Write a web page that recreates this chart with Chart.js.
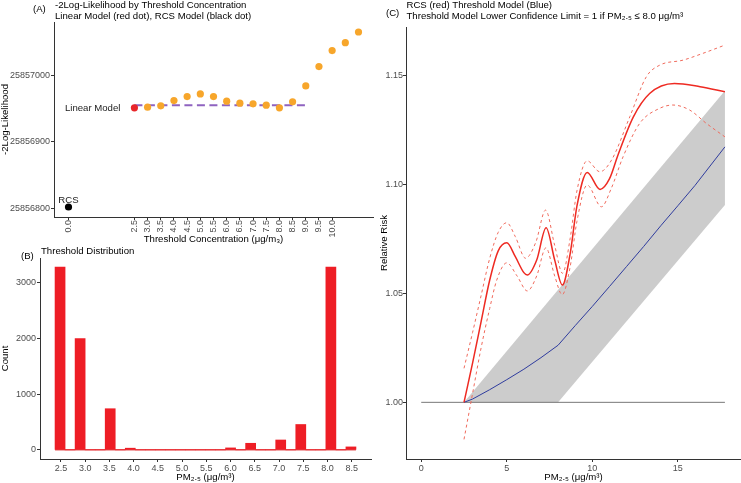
<!DOCTYPE html>
<html><head><meta charset="utf-8">
<script src="https://cdn.jsdelivr.net/npm/chart.js@4.4.0/dist/chart.umd.min.js"></script>
<style>
html,body{margin:0;padding:0;background:#fff;}
#wrap{position:relative;width:741px;height:483px;overflow:hidden;background:#fff;}
canvas{position:absolute;left:0;top:0;}
</style></head><body>
<div id="wrap">
<canvas id="cA" width="741" height="483"></canvas>
<canvas id="cB" width="741" height="483"></canvas>
<canvas id="cC" width="741" height="483"></canvas>
</div>
<script>
// ---------- Panel A data ----------
const thresholdConc = [3.0,3.5,4.0,4.5,5.0,5.5,6.0,6.5,7.0,7.5,8.0,8.5,9.0,9.5,10.0,10.5,11.0];
const thresholdNegLL = [25856952,25856954,25856962,25856968,25856972,25856968,25856961,25856958,25856957,25856955,25856951,25856960,25856984,25857013,25857037,25857049,25857065];
const linearConc = [2.5];
const linearNegLL = [25856951];
const rcsConc = [0.0];
const rcsNegLL = [25856802];
const linearRefConc = [2.5, 9.0];
const linearRefNegLL = [25856955, 25856955];
const xTicksA = [0.0,2.5,3.0,3.5,4.0,4.5,5.0,5.5,6.0,6.5,7.0,7.5,8.0,8.5,9.0,9.5,10.0];
const yTicksA = [25856800,25856900,25857000];

// ---------- Panel B data ----------
const histThreshold = [2.5,3.0,3.5,4.0,4.5,5.0,5.5,6.0,6.5,7.0,7.5,8.0,8.5];
const histCount = [3278,1996,738,30,0,0,0,35,118,177,455,3278,53];
const xTicksB = [2.5,3.0,3.5,4.0,4.5,5.0,5.5,6.0,6.5,7.0,7.5,8.0,8.5];
const yTicksB = [0,1000,2000,3000];

// ---------- Panel C data ----------
const rcsX  = [2.5,3.0,3.5,4.0,4.5,5.0,5.5,6.0,6.2,6.75,7.3,7.8,8.25,8.7,9.1,9.7,10.45,11.0,11.5,12.4,13.35,14.8,16.3,17.75];
const rcsRR = [1.000,1.018,1.037,1.056,1.0695,1.0732,1.0668,1.0595,1.0584,1.0653,1.0801,1.0653,1.0538,1.068,1.090,1.1055,1.0977,1.1025,1.1135,1.131,1.1417,1.1463,1.1448,1.1425];
const rcsUpX  = [2.5,3.0,3.5,4.0,4.5,5.0,5.5,6.1,6.7,7.27,7.8,8.26,8.7,9.1,9.7,10.44,11.12,12.19,13.16,13.94,15.3,16.46,17.75];
const rcsUpRR = [1.0156,1.032,1.049,1.066,1.078,1.0824,1.076,1.0661,1.0735,1.0882,1.072,1.0592,1.075,1.097,1.1108,1.1058,1.1111,1.131,1.1494,1.1547,1.157,1.1601,1.1639];
const rcsLoX  = [2.5,3.0,3.5,4.0,4.41,5.0,5.6,6.2,6.75,7.29,7.8,8.24,8.7,9.1,9.7,10.53,11.1,11.8,12.77,13.94,14.71,15.69,16.66,17.75];
const rcsLoRR = [0.983,1.004,1.025,1.043,1.056,1.064,1.058,1.0511,1.058,1.0709,1.058,1.0494,1.062,1.083,1.0997,1.0897,1.098,1.1127,1.128,1.1349,1.1364,1.1341,1.128,1.1218];
const thrX  = [2.5,3.0,4.0,5.0,6.0,7.0,8.0,9.0,10.0,11.0,12.0,13.0,14.0,15.0,16.0,17.75];
const thrRR = [1.0,1.0015,1.0058,1.0104,1.0152,1.0205,1.0262,1.0352,1.0440,1.0531,1.0623,1.0715,1.0810,1.0902,1.0995,1.1172];
const bandX = [2.5, 8.0, 17.75];
const bandUpRR = [1.000, 1.0516, 1.1430];
const bandLoRR = [1.000, 1.000, 1.0905];
const refX = [0, 17.75];
const refRR = [1.0, 1.0];
const xTicksC = [0,5,10,15];
const yTicksC = [1.00,1.05,1.10,1.15];

// ---------- helpers ----------
Chart.defaults.font.family = '"Liberation Sans", Arial, Helvetica, sans-serif';
Chart.defaults.color = '#4D4D4D';
const FONT = '"Liberation Sans", Arial, Helvetica, sans-serif';
const zip = (xs, ys) => xs.map((x, i) => ({x, y: ys[i]}));
const fixedTicks = vals => scale => { scale.ticks = vals.map(v => ({value: v})); };

function xAxis(o) {
  return {
    type: 'linear', position: 'bottom', min: o.min, max: o.max, offset: false,
    afterBuildTicks: fixedTicks(o.ticks),
    afterFit: s => { s.height = o.height; },
    ticks: {autoSkip: false, font: {size: 9}, color: '#4D4D4D', padding: o.rotate ? 0 : 1,
            minRotation: o.rotate ? 90 : 0, maxRotation: o.rotate ? 90 : 0, callback: o.fmt},
    grid: {display: true, offset: false, drawOnChartArea: false, drawTicks: true, tickLength: 3, color: '#333', lineWidth: 1},
    border: {display: true, color: '#333', width: 1},
    title: {display: true, text: o.title, color: '#000', font: {size: 9.6}, padding: 0}
  };
}
function yAxis(o) {
  return {
    type: 'linear', position: 'left', min: o.min, max: o.max, beginAtZero: false,
    afterBuildTicks: fixedTicks(o.ticks),
    afterFit: s => { s.width = o.width; },
    ticks: {autoSkip: false, font: {size: 9}, color: '#4D4D4D', padding: o.pad, callback: o.fmt},
    grid: {display: true, drawOnChartArea: false, drawTicks: true, tickLength: 3, color: '#333', lineWidth: 1},
    border: {display: true, color: '#333', width: 1},
    title: {display: true, text: o.title, color: '#000', font: {size: 9.6}, padding: 0}
  };
}
function textPlugin(items) {
  return {
    id: 'panelText',
    afterDraw(chart) {
      const ctx = chart.ctx;
      ctx.save();
      const list = typeof items === 'function' ? items(chart) : items;
      list.forEach(it => {
        ctx.font = (it.size || 9.6) + 'px ' + FONT;
        ctx.fillStyle = it.color || '#000';
        ctx.textAlign = it.align || 'left';
        ctx.textBaseline = it.baseline || 'alphabetic';
        ctx.fillText(it.text, it.x, it.y);
      });
      ctx.restore();
    }
  };
}
const common = {responsive: false, animation: false, devicePixelRatio: 1,
  plugins: {legend: {display: false}, tooltip: {enabled: false}}, events: []};

// ---------- Panel A ----------
new Chart(document.getElementById('cA'), {
  type: 'scatter',
  data: {datasets: [
    {data: zip(rcsConc, rcsNegLL), backgroundColor: '#000', borderWidth: 0, pointRadius: 3.6},
    {data: zip(linearConc, linearNegLL), backgroundColor: '#E8262A', borderWidth: 0, pointRadius: 3.6},
    {data: zip(thresholdConc, thresholdNegLL), backgroundColor: '#F7A62B', borderWidth: 0, pointRadius: 3.6},
    {type: 'line', data: zip(linearRefConc, linearRefNegLL), borderColor: '#8F63C0', borderWidth: 2,
     borderDash: [8, 4.5], pointRadius: 0, fill: false}
  ]},
  options: Object.assign({}, common, {
    layout: {padding: {left: 0, top: 22, right: 368, bottom: 238}},
    scales: {
      x: xAxis({min: -0.55, max: 11.55, ticks: xTicksA, height: 28, rotate: true,
                fmt: v => Number(v).toFixed(1), title: 'Threshold Concentration (\u03bcg/m\u2083)'}),
      y: yAxis({min: 25856787, max: 25857080, ticks: yTicksA, width: 54, pad: 1,
                fmt: v => String(Math.round(v)), title: '-2Log-Likelihood'})
    }
  }),
  plugins: [textPlugin(chart => {
    const sx = chart.scales.x, sy = chart.scales.y;
    return [
      {text: '(A)', x: 33, y: 9, baseline: 'middle'},
      {text: '-2Log-Likelihood by Threshold Concentration', x: 55, y: 7.5},
      {text: 'Linear Model (red dot), RCS Model (black dot)', x: 55, y: 18.5},
      {text: 'Linear Model', x: sx.getPixelForValue(linearConc[0]) - 14, y: sy.getPixelForValue(linearNegLL[0]) + 0.5, align: 'right', baseline: 'middle', color: '#222'},
      {text: 'RCS', x: sx.getPixelForValue(rcsConc[0]), y: sy.getPixelForValue(rcsNegLL[0]) - 7, align: 'center', baseline: 'middle', color: '#222'}
    ];
  })]
});

// ---------- Panel B (histogram binning of thresholds) ----------
const nBins = 30;
const hLo = Math.min(...histThreshold), hHi = Math.max(...histThreshold);
const binW = (hHi - hLo) / (nBins - 1);
const binOrigin = binW / 2 + Math.floor((hLo - binW / 2) / binW) * binW;
const bins = [];
for (let k = 0; binOrigin + k * binW < hHi + 1e-9; k++) {
  bins.push({left: binOrigin + k * binW, right: binOrigin + (k + 1) * binW, center: binOrigin + (k + 0.5) * binW, count: 0});
}
histThreshold.forEach((t, i) => {
  const k = Math.ceil((t - binOrigin) / binW - 1e-7) - 1;
  bins[k].count += histCount[i];
});
const bSpan = bins[bins.length - 1].right - bins[0].left;
new Chart(document.getElementById('cB'), {
  type: 'bar',
  data: {datasets: [
    {type: 'bar', data: bins.map(b => ({x: b.center, y: b.count})), backgroundColor: '#EE1D25',
     borderWidth: 0, barPercentage: 1, categoryPercentage: 1},
    {type: 'line', data: [{x: bins[0].left, y: 0}, {x: bins[bins.length - 1].right, y: 0}],
     borderColor: '#E5585A', borderWidth: 1.5, pointRadius: 0, fill: false}
  ]},
  options: Object.assign({}, common, {
    layout: {padding: {left: 0, top: 258, right: 370, bottom: 0}},
    scales: {
      x: xAxis({min: bins[0].left - 0.05 * bSpan, max: bins[bins.length - 1].right + 0.05 * bSpan,
                ticks: xTicksB, height: 24, rotate: false, fmt: v => Number(v).toFixed(1),
                title: 'PM\u2082.\u2085 (\u03bcg/m\u00b3)'}),
      y: yAxis({min: -164, max: 3442, ticks: yTicksB, width: 40, pad: 1,
                fmt: v => String(Math.round(v)), title: 'Count'})
    }
  }),
  plugins: [textPlugin([
    {text: '(B)', x: 21, y: 256.5, baseline: 'middle'},
    {text: 'Threshold Distribution', x: 41, y: 253.5}
  ])]
});

// ---------- Panel C ----------
new Chart(document.getElementById('cC'), {
  type: 'line',
  data: {datasets: [
    {data: zip(rcsX, rcsRR), borderColor: '#EE2A22', borderWidth: 1.5, pointRadius: 0, cubicInterpolationMode: 'monotone', fill: false},
    {data: zip(rcsUpX, rcsUpRR), borderColor: '#F06A5C', borderWidth: 1, borderDash: [3, 3], pointRadius: 0, cubicInterpolationMode: 'monotone', fill: false},
    {data: zip(rcsLoX, rcsLoRR), borderColor: '#F06A5C', borderWidth: 1, borderDash: [3, 3], pointRadius: 0, cubicInterpolationMode: 'monotone', fill: false},
    {data: zip(thrX, thrRR), borderColor: '#2F3C9E', borderWidth: 1, pointRadius: 0, tension: 0, fill: false},
    {data: zip(refX, refRR), borderColor: '#777777', borderWidth: 1, pointRadius: 0, tension: 0, fill: false},
    {data: zip(bandX, bandUpRR), borderColor: 'rgba(0,0,0,0)', borderWidth: 0, pointRadius: 0, tension: 0,
     backgroundColor: '#CCCCCC', fill: '+1'},
    {data: zip(bandX, bandLoRR), borderColor: 'rgba(0,0,0,0)', borderWidth: 0, pointRadius: 0, tension: 0, fill: false}
  ]},
  options: Object.assign({}, common, {
    layout: {padding: {left: 379, top: 27, right: 0, bottom: 0}},
    scales: {
      x: xAxis({min: -0.89, max: 18.69, ticks: xTicksC, height: 24, rotate: false,
                fmt: v => String(Math.round(v)), title: 'PM\u2082.\u2085 (\u03bcg/m\u00b3)'}),
      y: yAxis({min: 0.974, max: 1.1722, ticks: yTicksC, width: 27, pad: 0,
                fmt: v => Number(v).toFixed(2), title: 'Relative Risk'})
    }
  }),
  plugins: [textPlugin([
    {text: '(C)', x: 386, y: 13.5, baseline: 'middle'},
    {text: 'RCS (red) Threshold Model (Blue)', x: 406.5, y: 7.5},
    {text: 'Threshold Model Lower Confidence Limit = 1 if PM\u2082.\u2085 \u2264 8.0 \u03bcg/m\u00b3', x: 406.5, y: 18.5}
  ])]
});
</script>
</body></html>
